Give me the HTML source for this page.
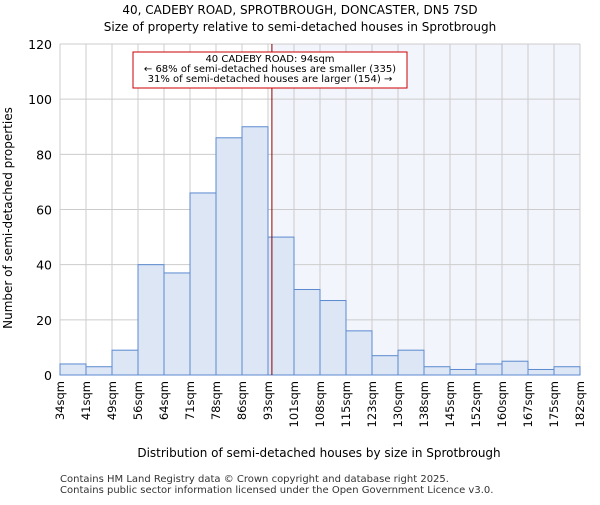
<!DOCTYPE html>
<html><head><meta charset="utf-8"><style>body{margin:0;background:#fff}svg{font-family:"DejaVu Sans","Liberation Sans",sans-serif}</style></head>
<body>
<svg width="600" height="500" xmlns="http://www.w3.org/2000/svg">
<text x="300" y="14" text-anchor="middle" font-size="12">40, CADEBY ROAD, SPROTBROUGH, DONCASTER, DN5 7SD</text>
<text x="300" y="31" text-anchor="middle" font-size="12">Size of property relative to semi-detached houses in Sprotbrough</text>
<g id="plot"></g>
<text x="319" y="457" text-anchor="middle" font-size="12">Distribution of semi-detached houses by size in Sprotbrough</text>
<text transform="translate(12,218) rotate(-90)" text-anchor="middle" font-size="12">Number of semi-detached properties</text>
<text x="60" y="482" font-size="10" fill="#333">Contains HM Land Registry data © Crown copyright and database right 2025.</text>
<text x="60" y="493" font-size="10" fill="#333">Contains public sector information licensed under the Open Government Licence v3.0.</text>
</svg>
<script>
const categories=["34sqm","41sqm","49sqm","56sqm","64sqm","71sqm","78sqm","86sqm","93sqm","101sqm","108sqm","115sqm","123sqm","130sqm","138sqm","145sqm","152sqm","160sqm","167sqm","175sqm","182sqm"];
const counts=[4,3,9,40,37,66,86,90,50,31,27,16,7,9,3,2,4,5,2,3];
const yTicks=[0,20,40,60,80,100,120];
const markerBin=8.15;
const NS="http://www.w3.org/2000/svg";
const g=document.getElementById('plot');
const X0=60,X1=580,Y0=375,Y1=44,yMax=120;
const bw=(X1-X0)/counts.length;
const xs=i=>X0+i*bw;
const ys=v=>Y0-(v/yMax)*(Y0-Y1);
function mk(t,a){const e=document.createElementNS(NS,t);for(const k in a)e.setAttribute(k,a[k]);g.appendChild(e);return e;}
const sh=mk('rect',{x:xs(markerBin),y:Y1,width:X1-xs(markerBin),height:Y0-Y1,fill:'#f3f5fc'});


for(let i=0;i<=counts.length;i++){const l=mk('line',{x1:xs(i),x2:xs(i),y1:Y1,y2:Y0,stroke:'#ccc','stroke-width':1});

}
yTicks.forEach(v=>{const l=mk('line',{x1:X0,x2:X1,y1:ys(v),y2:ys(v),stroke:'#ccc','stroke-width':1});


const t=mk('text',{x:X0-8,y:ys(v)+5,'text-anchor':'end','font-size':12.5});t.textContent=v;

});
counts.forEach((c,i)=>{const r=mk('rect',{x:xs(i),y:ys(c),width:bw,height:Y0-ys(c),fill:'#dce6f5',stroke:'#5b8ad0','stroke-width':1});

});
categories.forEach((c,i)=>{const t=mk('text',{transform:`translate(${xs(i)+4},${Y0+6}) rotate(-90)`,'text-anchor':'end','font-size':11.5});t.textContent=c;

});
const ml=mk('line',{x1:xs(markerBin),x2:xs(markerBin),y1:Y1,y2:Y0,stroke:'#8b0000','stroke-width':1});


const box=mk('rect',{x:133,y:52,width:274,height:36,fill:'#fff',stroke:'#cc0000','stroke-width':1});


["40 CADEBY ROAD: 94sqm","← 68% of semi-detached houses are smaller (335)","31% of semi-detached houses are larger (154) →"].forEach((s,k)=>{const t=mk('text',{x:270,y:62+k*10,'text-anchor':'middle','font-size':10});t.textContent=s;

});
</script>
</body></html>
